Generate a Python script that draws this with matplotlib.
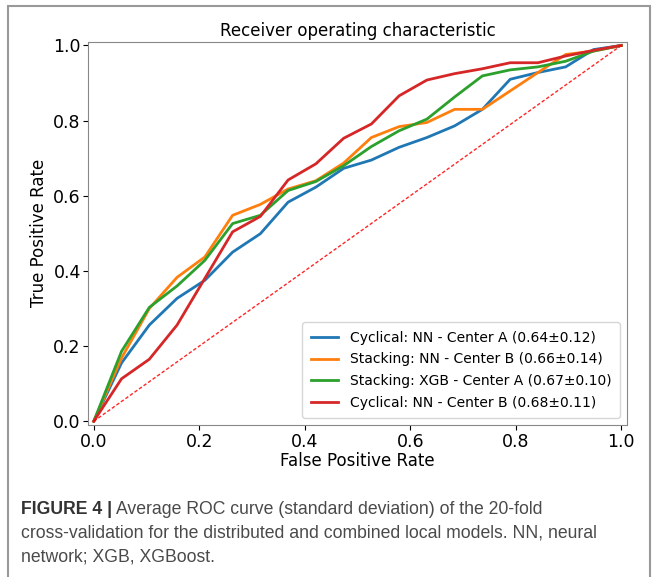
import matplotlib
matplotlib.use("Agg")
import matplotlib.pyplot as plt
from matplotlib.patches import Rectangle

fpr = [0.0, 0.0526, 0.1053, 0.1579, 0.2105, 0.2632, 0.3158, 0.3684, 0.4211, 0.4737,
       0.5263, 0.5789, 0.6316, 0.6842, 0.7368, 0.7895, 0.8421, 0.8947, 0.9474, 1.0]

tpr_cyc_nn_a = [0.0, 0.155, 0.256, 0.327, 0.375, 0.45, 0.499, 0.583, 0.623, 0.673,
                0.695, 0.729, 0.755, 0.786, 0.83, 0.91, 0.928, 0.943, 0.989, 1.0]
tpr_stk_nn_b = [0.0, 0.168, 0.30, 0.383, 0.437, 0.548, 0.577, 0.618, 0.64, 0.687,
                0.755, 0.784, 0.795, 0.83, 0.83, 0.879, 0.928, 0.976, 0.985, 1.0]
tpr_stk_xgb_a = [0.0, 0.186, 0.303, 0.36, 0.428, 0.526, 0.548, 0.614, 0.638, 0.68,
                 0.731, 0.773, 0.804, 0.863, 0.919, 0.935, 0.943, 0.958, 0.985, 1.0]
tpr_cyc_nn_b = [0.0, 0.113, 0.165, 0.256, 0.38, 0.504, 0.545, 0.642, 0.685, 0.753,
                0.791, 0.866, 0.908, 0.925, 0.938, 0.954, 0.954, 0.972, 0.987, 1.0]

labels = ["Cyclical: NN - Center A (0.64\u00b10.12)",
          "Stacking: NN - Center B (0.66\u00b10.14)",
          "Stacking: XGB - Center A (0.67\u00b10.10)",
          "Cyclical: NN - Center B (0.68\u00b10.11)"]
series = [tpr_cyc_nn_a, tpr_stk_nn_b, tpr_stk_xgb_a, tpr_cyc_nn_b]
colors = ["#1f77b4", "#ff7f0e", "#2ca02c", "#d62728"]

caption_bold = "FIGURE 4 |"
caption_lines = ["Average ROC curve (standard deviation) of the 20-fold",
                 "cross-validation for the distributed and combined local models. NN, neural",
                 "network; XGB, XGBoost."]

fig = plt.figure(figsize=(6.55, 5.77), dpi=100)
W, H = 655, 577
ax = fig.add_axes([88.5 / W, 1 - 425 / H, (626.5 - 88.5) / W, (425 - 41.7) / H])

for y, lab, c in zip(series, labels, colors):
    ax.plot(fpr, y, color=c, lw=2, label=lab)
ax.plot([0, 1], [0, 1], linestyle=(0, (2.5, 1.5)), color="red", lw=1, alpha=0.85)

ax.set_xlim(-0.01, 1.01)
ax.set_ylim(-0.01, 1.01)
ax.set_xticks([0.0, 0.2, 0.4, 0.6, 0.8, 1.0])
ax.set_yticks([0.0, 0.2, 0.4, 0.6, 0.8, 1.0])
ax.tick_params(labelsize=12.5, length=3.5, pad=2)
ax.set_xlabel("False Positive Rate", fontsize=12, labelpad=1)
ax.set_ylabel("True Positive Rate", fontsize=12, labelpad=4)
ax.set_title("Receiver operating characteristic", fontsize=12, pad=4)
for s in ax.spines.values():
    s.set_color("#888888")
ax.legend(loc="lower right", fontsize=10, handlelength=2.0, borderpad=0.6,
          labelspacing=0.55)

# outer frame
fig.patches.append(Rectangle((8 / W, -0.02), (649.5 - 8) / W, 1 - 6 / H + 0.02,
                             transform=fig.transFigure, fill=False,
                             edgecolor="#999999", lw=1.5))

cap_font = ["Liberation Sans", "DejaVu Sans"]
cap_color = "#4a4a4a"
x0 = 21 / W
ys = [509, 533, 557]

# fit caption size so that the longest line spans ~580 px like the reference
probe = fig.text(0, 0, caption_lines[1], fontsize=12, family=cap_font)
fig.canvas.draw()
wpx = probe.get_window_extent().width
probe.remove()
fs = 12 * 580.0 / wpx

t = fig.text(x0, 1 - ys[0] / H, caption_bold, fontsize=fs, fontweight="bold",
             family=cap_font, color="#333333", va="center")
fig.canvas.draw()
bb = t.get_window_extent()
fig.text((bb.x1 + 4) / W, 1 - ys[0] / H, caption_lines[0],
         fontsize=fs, family=cap_font, color=cap_color, va="center")
fig.text(x0, 1 - ys[1] / H, caption_lines[1],
         fontsize=fs, family=cap_font, color=cap_color, va="center")
fig.text(x0, 1 - ys[2] / H, caption_lines[2],
         fontsize=fs, family=cap_font, color=cap_color, va="center")

fig.savefig("out.png", dpi=100)
